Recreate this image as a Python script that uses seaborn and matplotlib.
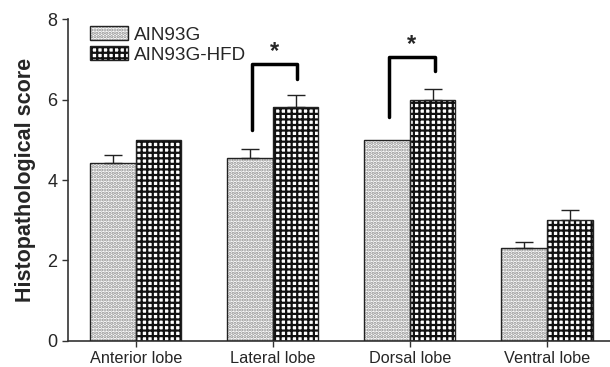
import pandas as pd
import seaborn as sns
import matplotlib.pyplot as plt
from matplotlib.patches import Rectangle, Patch

# Data
lobes = ["Anterior lobe", "Lateral lobe", "Dorsal lobe", "Ventral lobe"]
groups = ["AIN93G", "AIN93G-HFD"]
score_ain93g = [4.42, 4.55, 5.0, 2.31]
score_hfd = [5.0, 5.81, 5.99, 3.0]
err_ain93g = [0.2, 0.22, 0.0, 0.15]
err_hfd = [0.0, 0.3, 0.27, 0.25]
# significance brackets: (lobe index, left foot, right foot, top)
brackets = [(1, 5.24, 6.51, 6.88), (2, 5.57, 6.71, 7.06)]

df = pd.DataFrame({
    "lobe": lobes * 2,
    "diet": [groups[0]] * 4 + [groups[1]] * 4,
    "score": score_ain93g + score_hfd,
})

sns.set_theme(style="ticks")
plt.rcParams["font.family"] = ["Liberation Sans", "DejaVu Sans"]
plt.rcParams["hatch.linewidth"] = 1.6

fig = plt.figure(figsize=(6.1, 3.67), dpi=100)
ax = fig.add_axes([0.111, 0.071, 0.889, 0.877])

sns.barplot(data=df, x="lobe", y="score", hue="diet", errorbar=None,
            width=0.665, palette=["white", "white"], legend=False, ax=ax)

# (hatch, hatch colour) per group
styles = {groups[0]: (".....", "#8c8c8c"),
          groups[1]: ("+++", "#111111")}
errs = {groups[0]: err_ain93g, groups[1]: err_hfd}

for container, g in zip(ax.containers, groups):
    hatch, hc = styles[g]
    for bar, e in zip(container.patches, errs[g]):
        bar.set_facecolor("white")
        bar.set_hatch(hatch)
        bar.set_edgecolor(hc)
        bar.set_linewidth(0)
        # crisp dark outline on top of the hatch
        ax.add_patch(Rectangle(bar.get_xy(), bar.get_width(), bar.get_height(),
                               fill=False, edgecolor="#222222", lw=1.0, zorder=3))
        xc = bar.get_x() + bar.get_width() / 2
        if e > 0:
            ax.errorbar(xc, bar.get_height(), yerr=[[0], [e]], fmt="none",
                        ecolor="#222222", elinewidth=1.0, capsize=6.5,
                        capthick=1.0, zorder=2)

for i, y_left, y_right, y_top in brackets:
    xl, xr = i - 0.15, i + 0.18
    ax.plot([xl, xl, xr, xr], [y_left, y_top, y_top, y_right],
            color="black", lw=2.5, solid_joinstyle="round")
    ax.text((xl + xr) / 2, y_top + 0.02, "*", ha="center", va="bottom",
            fontsize=17, fontweight="bold")

ax.set_ylim(0, 8)
ax.set_xlim(-0.496, 3.46)
ax.set_yticks([0, 2, 4, 6, 8])
ax.set_xlabel("")
ax.set_ylabel("Histopathological score", fontsize=15.5, fontweight="bold",
              labelpad=8)
ax.tick_params(axis="both", length=4, width=1, color="#333333")
ax.tick_params(axis="y", labelsize=13)
ax.tick_params(axis="x", labelsize=11.7)
for s in ["left", "bottom"]:
    ax.spines[s].set_color("#333333")
    ax.spines[s].set_linewidth(1.2)
sns.despine(ax=ax)

handles = []
for g in groups:
    hatch, hc = styles[g]
    handles.append((Patch(facecolor="white", edgecolor=hc, hatch=hatch, lw=0),
                    Patch(fill=False, edgecolor="#222222", lw=1.0)))
ax.legend(handles, groups, loc="upper left", bbox_to_anchor=(0.01, 1.03),
          frameon=False, fontsize=13.6, handlelength=2.0, handleheight=0.7,
          handletextpad=0.3, labelspacing=0.15)

plt.savefig("out.png", dpi=100)
plt.close()
